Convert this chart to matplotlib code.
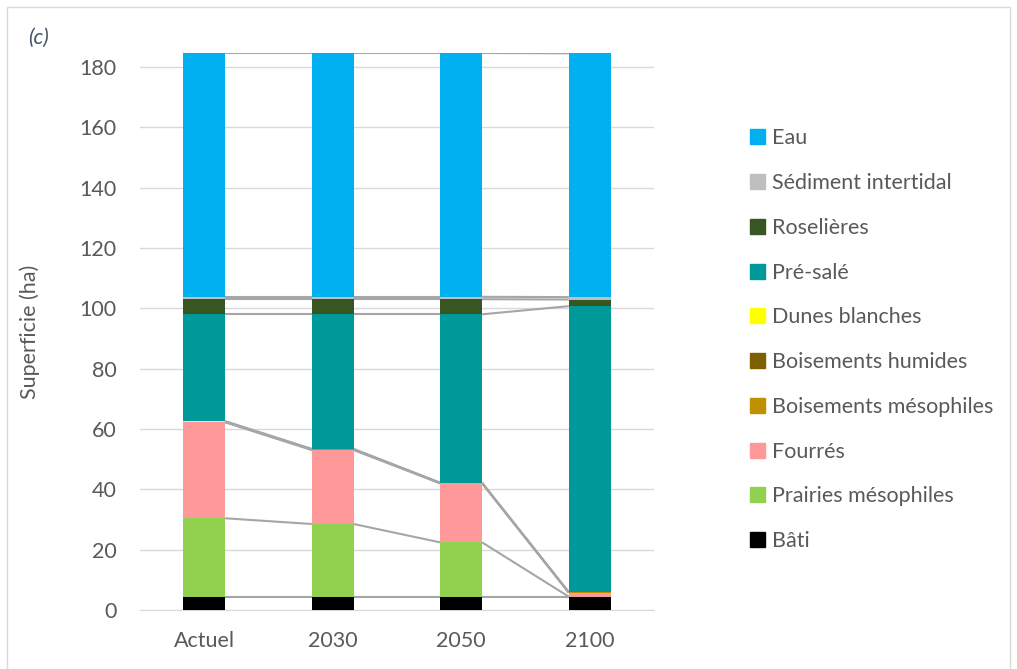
import matplotlib.pyplot as plt
import matplotlib.patches as mpatches
import numpy as np

plt.rcParams['font.family'] = ['Lato', 'DejaVu Sans']

categories = ["Actuel", "2030", "2050", "2100"]

# séries empilées, de bas en haut (ha)
bati = [4.4, 4.4, 4.4, 4.4]
prairies = [26.0, 24.1, 18.0, 0.0]
fourres = [31.8, 24.5, 19.6, 1.3]
bois_meso = [0.2, 0.2, 0.0, 0.1]
bois_hum = [0.0, 0.0, 0.0, 0.0]
dunes = [0.2, 0.2, 0.2, 0.1]
pre_sale = [35.4, 44.6, 55.8, 94.8]
roselieres = [5.0, 5.0, 5.0, 2.2]
sediment = [0.8, 0.8, 0.8, 0.8]
eau = [80.8, 80.8, 80.8, 80.8]

series = [
    ("Bâti", bati, "#000000"),
    ("Prairies mésophiles", prairies, "#92D050"),
    ("Fourrés", fourres, "#FF9999"),
    ("Boisements mésophiles", bois_meso, "#BF9000"),
    ("Boisements humides", bois_hum, "#7F6000"),
    ("Dunes blanches", dunes, "#FFFF00"),
    ("Pré-salé", pre_sale, "#009999"),
    ("Roselières", roselieres, "#375623"),
    ("Sédiment intertidal", sediment, "#BFBFBF"),
    ("Eau", eau, "#00B0F0"),
]

TXT = "#595959"
FS = 15.5
W = 0.325

fig = plt.figure(figsize=(10.17, 6.69), dpi=100)
ax = fig.add_axes([140 / 1017, 1 - 610 / 669, 514 / 1017, 557 / 669])

x = np.arange(len(categories))
bottom = np.zeros(len(categories))
handles = []
for name, vals, col in series:
    vals = np.array(vals)
    ax.bar(x, vals, W, bottom=bottom, color=col, edgecolor="none", zorder=3)
    top = bottom + vals
    # lignes de série (style Excel)
    for i in range(len(x) - 1):
        ax.plot([x[i] + W / 2, x[i + 1] - W / 2], [top[i], top[i + 1]],
                color="#A6A6A6", lw=1.5, zorder=2, solid_capstyle="butt")
    bottom = top
    handles.append(mpatches.Patch(color=col, label=name))

ax.set_xlim(-0.5, 3.5)
ax.set_ylim(0, 184.6)
ax.set_yticks(range(0, 181, 20))
ax.set_xticks(x)
ax.set_xticklabels(categories)
ax.grid(axis="y", color="#D9D9D9", lw=1, zorder=0)
ax.set_axisbelow(True)
for s in ["top", "right", "left"]:
    ax.spines[s].set_visible(False)
ax.spines["bottom"].set_color("#D9D9D9")
ax.tick_params(length=0, labelsize=FS, colors=TXT)
ax.tick_params(axis="y", pad=17)
ax.tick_params(axis="x", pad=15)
ax.set_ylabel("Superficie (ha)", fontsize=FS, color=TXT, labelpad=28)

fig.text(28 / 1017, 1 - 48 / 669, "(c)", fontsize=FS, style="italic",
         color="#44546A", ha="left", va="bottom")

leg = fig.legend(handles=handles[::-1], loc="upper left",
                 bbox_to_anchor=(731 / 1017, 1 - 109 / 669), frameon=False,
                 fontsize=FS, handlelength=0.7, handleheight=0.7,
                 handletextpad=0.3, labelspacing=1.15, labelcolor=TXT)

fig.patches.append(mpatches.Rectangle((7 / 1017, -0.01), 1003 / 1017, 1 - 7 / 669 + 0.01,
                                      transform=fig.transFigure, fill=False,
                                      edgecolor="#D9D9D9", lw=1))

fig.savefig("out.png", dpi=100)
